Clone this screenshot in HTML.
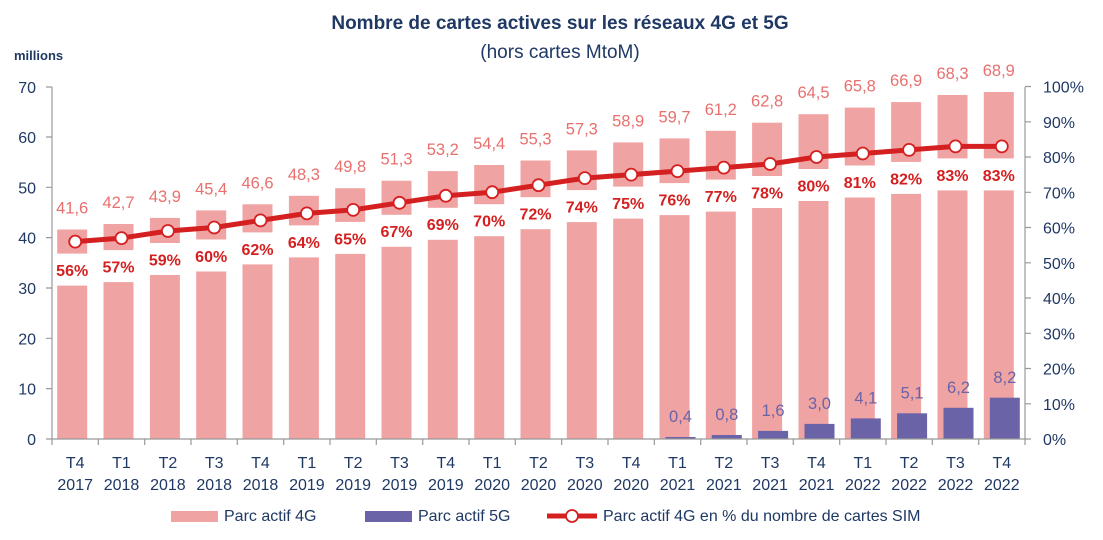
<!DOCTYPE html>
<html><head><meta charset="utf-8"><style>
html,body{margin:0;padding:0;background:#fff;}
svg{display:block;font-family:"Liberation Sans",sans-serif;}
.ax{fill:#1f3864;font-size:16px;}
.v4{fill:#e8706e;font-size:16.5px;text-anchor:middle;}
.v5{fill:#6a63a8;font-size:16.5px;text-anchor:middle;}
.pc{fill:#d42020;font-size:16px;font-weight:bold;text-anchor:middle;}
</style></head><body>
<svg width="1103" height="540" viewBox="0 0 1103 540">
<text x="560" y="29" text-anchor="middle" style="font-size:19px;font-weight:bold;fill:#1f3864">Nombre de cartes actives sur les réseaux 4G et 5G</text>
<text x="560" y="58" text-anchor="middle" style="font-size:19px;fill:#1f3864">(hors cartes MtoM)</text>
<text x="14" y="60" style="font-size:13px;font-weight:bold;fill:#1f3864">millions</text>

<g fill="#f0a3a3">
<rect x="57.2" y="229.5" width="30" height="209.5"/>
<rect x="103.5" y="224.0" width="30" height="215.0"/>
<rect x="149.9" y="217.9" width="30" height="221.1"/>
<rect x="196.2" y="210.4" width="30" height="228.6"/>
<rect x="242.5" y="204.3" width="30" height="234.7"/>
<rect x="288.9" y="195.8" width="30" height="243.2"/>
<rect x="335.2" y="188.2" width="30" height="250.8"/>
<rect x="381.5" y="180.7" width="30" height="258.3"/>
<rect x="427.8" y="171.1" width="30" height="267.9"/>
<rect x="474.2" y="165.0" width="30" height="274.0"/>
<rect x="520.5" y="160.5" width="30" height="278.5"/>
<rect x="566.8" y="150.4" width="30" height="288.6"/>
<rect x="613.2" y="142.4" width="30" height="296.6"/>
<rect x="659.5" y="138.4" width="30" height="300.6"/>
<rect x="705.8" y="130.8" width="30" height="308.2"/>
<rect x="752.1" y="122.7" width="30" height="316.3"/>
<rect x="798.5" y="114.2" width="30" height="324.8"/>
<rect x="844.8" y="107.6" width="30" height="331.4"/>
<rect x="891.1" y="102.1" width="30" height="336.9"/>
<rect x="937.5" y="95.0" width="30" height="344.0"/>
<rect x="983.8" y="92.0" width="30" height="347.0"/>
</g>
<g fill="#fff">
<rect x="53" y="253.6" width="38" height="32"/>
<rect x="99" y="250.1" width="38" height="32"/>
<rect x="146" y="243.0" width="38" height="32"/>
<rect x="192" y="239.5" width="38" height="32"/>
<rect x="238" y="232.4" width="38" height="32"/>
<rect x="285" y="225.4" width="38" height="32"/>
<rect x="331" y="221.9" width="38" height="32"/>
<rect x="377" y="214.8" width="38" height="32"/>
<rect x="424" y="207.8" width="38" height="32"/>
<rect x="470" y="204.2" width="38" height="32"/>
<rect x="516" y="197.2" width="38" height="32"/>
<rect x="563" y="190.1" width="38" height="32"/>
<rect x="609" y="186.6" width="38" height="32"/>
<rect x="655" y="183.1" width="38" height="32"/>
<rect x="701" y="179.6" width="38" height="32"/>
<rect x="748" y="176.0" width="38" height="32"/>
<rect x="794" y="169.0" width="38" height="32"/>
<rect x="840" y="165.5" width="38" height="32"/>
<rect x="887" y="161.9" width="38" height="32"/>
<rect x="933" y="158.4" width="38" height="32"/>
<rect x="979" y="158.4" width="38" height="32"/>
</g>
<g fill="#6a63a8">
<rect x="665.5" y="437.0" width="30" height="2.0"/>
<rect x="711.8" y="435.0" width="30" height="4.0"/>
<rect x="758.1" y="430.9" width="30" height="8.1"/>
<rect x="804.5" y="423.9" width="30" height="15.1"/>
<rect x="850.8" y="418.4" width="30" height="20.6"/>
<rect x="897.1" y="413.3" width="30" height="25.7"/>
<rect x="943.5" y="407.8" width="30" height="31.2"/>
<rect x="989.8" y="397.7" width="30" height="41.3"/>
</g>

<g stroke="#999" stroke-width="1.2" fill="none">
<path d="M52 87V439H1025V87"/>
<path d="M46 439H52M46 388.6H52M46 338.3H52M46 288H52M46 237.6H52M46 187.3H52M46 137H52M46 87H52"/>
<path d="M1025 439H1031M1025 403.8H1031M1025 368.5H1031M1025 333.3H1031M1025 298H1031M1025 262.8H1031M1025 227.5H1031M1025 192.3H1031M1025 157H1031M1025 121.8H1031M1025 86.5H1031"/>
<path d="M52 439v6M98.3 439v6M144.7 439v6M191 439v6M237.3 439v6M283.7 439v6M330 439v6M376.3 439v6M422.7 439v6M469 439v6M515.3 439v6M561.7 439v6M608 439v6M654.3 439v6M700.7 439v6M747 439v6M793.3 439v6M839.7 439v6M886 439v6M932.3 439v6M978.7 439v6M1025 439v6"/>
</g>

<polyline fill="none" stroke="#d42020" stroke-width="5" stroke-linejoin="round" points="75.2,241.6 121.5,238.1 167.9,231.0 214.2,227.5 260.5,220.4 306.9,213.4 353.2,209.9 399.5,202.8 445.8,195.8 492.2,192.2 538.5,185.2 584.8,178.1 631.2,174.6 677.5,171.1 723.8,167.6 770.1,164.0 816.5,157.0 862.8,153.5 909.1,149.9 955.5,146.4 1001.8,146.4"/>
<g fill="#fff" stroke="#d42020" stroke-width="1.8">
<circle cx="75.2" cy="241.6" r="6"/><circle cx="121.5" cy="238.1" r="6"/><circle cx="167.9" cy="231.0" r="6"/><circle cx="214.2" cy="227.5" r="6"/><circle cx="260.5" cy="220.4" r="6"/><circle cx="306.9" cy="213.4" r="6"/><circle cx="353.2" cy="209.9" r="6"/><circle cx="399.5" cy="202.8" r="6"/><circle cx="445.8" cy="195.8" r="6"/><circle cx="492.2" cy="192.2" r="6"/><circle cx="538.5" cy="185.2" r="6"/><circle cx="584.8" cy="178.1" r="6"/><circle cx="631.2" cy="174.6" r="6"/><circle cx="677.5" cy="171.1" r="6"/><circle cx="723.8" cy="167.6" r="6"/><circle cx="770.1" cy="164.0" r="6"/><circle cx="816.5" cy="157.0" r="6"/><circle cx="862.8" cy="153.5" r="6"/><circle cx="909.1" cy="149.9" r="6"/><circle cx="955.5" cy="146.4" r="6"/><circle cx="1001.8" cy="146.4" r="6"/>
</g>

<g class="v4">
<text x="72.2" y="213.5">41,6</text><text x="118.5" y="208">42,7</text><text x="164.9" y="201.9">43,9</text><text x="211.2" y="194.4">45,4</text><text x="257.5" y="188.3">46,6</text><text x="303.9" y="179.8">48,3</text><text x="350.2" y="172.2">49,8</text><text x="396.5" y="164.7">51,3</text><text x="442.8" y="155.1">53,2</text><text x="489.2" y="149">54,4</text><text x="535.5" y="144.5">55,3</text><text x="581.8" y="134.4">57,3</text><text x="628.2" y="126.4">58,9</text><text x="674.5" y="122.4">59,7</text><text x="720.8" y="114.8">61,2</text><text x="767.1" y="106.7">62,8</text><text x="813.5" y="98.2">64,5</text><text x="859.8" y="91.6">65,8</text><text x="906.1" y="86.1">66,9</text><text x="952.5" y="79">68,3</text><text x="998.8" y="76">68,9</text>
</g>
<g class="pc">
<text x="72.2" y="276">56%</text><text x="118.5" y="272.5">57%</text><text x="164.9" y="265.4">59%</text><text x="211.2" y="261.9">60%</text><text x="257.5" y="254.8">62%</text><text x="303.9" y="247.8">64%</text><text x="350.2" y="244.3">65%</text><text x="396.5" y="237.2">67%</text><text x="442.8" y="230.2">69%</text><text x="489.2" y="226.6">70%</text><text x="535.5" y="219.6">72%</text><text x="581.8" y="212.5">74%</text><text x="628.2" y="209">75%</text><text x="674.5" y="205.5">76%</text><text x="720.8" y="202">77%</text><text x="767.1" y="198.4">78%</text><text x="813.5" y="191.4">80%</text><text x="859.8" y="187.9">81%</text><text x="906.1" y="184.3">82%</text><text x="952.5" y="180.8">83%</text><text x="998.8" y="180.8">83%</text>
</g>
<g class="v5">
<text x="680.5" y="422">0,4</text><text x="726.8" y="420">0,8</text><text x="773.1" y="416">1,6</text><text x="819.5" y="409">3,0</text><text x="865.8" y="403.5">4,1</text><text x="912.1" y="398.5">5,1</text><text x="958.5" y="393">6,2</text><text x="1004.8" y="383">8,2</text>
</g>

<g class="ax" text-anchor="end">
<text x="36" y="445">0</text><text x="36" y="394.6">10</text><text x="36" y="344.3">20</text><text x="36" y="294">30</text><text x="36" y="243.6">40</text><text x="36" y="193.3">50</text><text x="36" y="143">60</text><text x="36" y="93">70</text>
</g>
<g class="ax">
<text x="1043" y="445">0%</text><text x="1043" y="409.8">10%</text><text x="1043" y="374.5">20%</text><text x="1043" y="339.3">30%</text><text x="1043" y="304">40%</text><text x="1043" y="268.8">50%</text><text x="1043" y="233.5">60%</text><text x="1043" y="198.3">70%</text><text x="1043" y="163">80%</text><text x="1043" y="127.8">90%</text><text x="1043" y="92.5">100%</text>
</g>
<g class="ax" text-anchor="middle">
<text x="75.2" y="468">T4</text><text x="121.5" y="468">T1</text><text x="167.9" y="468">T2</text><text x="214.2" y="468">T3</text><text x="260.5" y="468">T4</text><text x="306.9" y="468">T1</text><text x="353.2" y="468">T2</text><text x="399.5" y="468">T3</text><text x="445.8" y="468">T4</text><text x="492.2" y="468">T1</text><text x="538.5" y="468">T2</text><text x="584.8" y="468">T3</text><text x="631.2" y="468">T4</text><text x="677.5" y="468">T1</text><text x="723.8" y="468">T2</text><text x="770.1" y="468">T3</text><text x="816.5" y="468">T4</text><text x="862.8" y="468">T1</text><text x="909.1" y="468">T2</text><text x="955.5" y="468">T3</text><text x="1001.8" y="468">T4</text>
<text x="75.2" y="490">2017</text><text x="121.5" y="490">2018</text><text x="167.9" y="490">2018</text><text x="214.2" y="490">2018</text><text x="260.5" y="490">2018</text><text x="306.9" y="490">2019</text><text x="353.2" y="490">2019</text><text x="399.5" y="490">2019</text><text x="445.8" y="490">2019</text><text x="492.2" y="490">2020</text><text x="538.5" y="490">2020</text><text x="584.8" y="490">2020</text><text x="631.2" y="490">2020</text><text x="677.5" y="490">2021</text><text x="723.8" y="490">2021</text><text x="770.1" y="490">2021</text><text x="816.5" y="490">2021</text><text x="862.8" y="490">2022</text><text x="909.1" y="490">2022</text><text x="955.5" y="490">2022</text><text x="1001.8" y="490">2022</text>
</g>

<rect x="171" y="511" width="47" height="11" fill="#f0a3a3"/>
<text class="ax" x="224" y="521">Parc actif 4G</text>
<rect x="365" y="511" width="47" height="11" fill="#6a63a8"/>
<text class="ax" x="418" y="521">Parc actif 5G</text>
<line x1="547" y1="516" x2="597" y2="516" stroke="#d42020" stroke-width="5"/>
<circle cx="572" cy="516" r="6" fill="#fff" stroke="#d42020" stroke-width="1.8"/>
<text class="ax" x="603" y="521">Parc actif 4G en % du nombre de cartes SIM</text>
</svg>
</body></html>
